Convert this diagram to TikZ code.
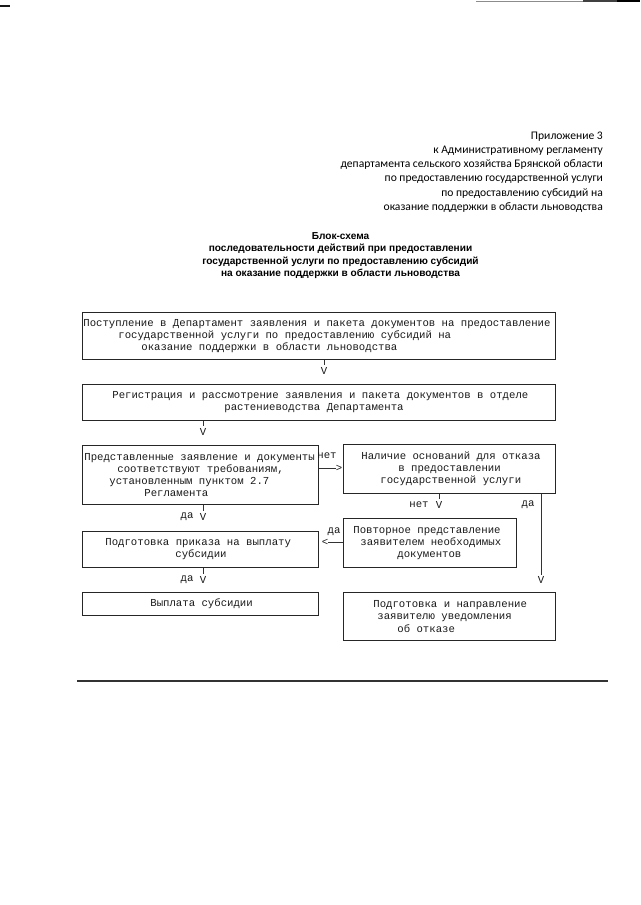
\documentclass[tikz,border=0pt]{standalone}
\usepackage{fontspec}
\setmainfont{Liberation Serif}
\newfontfamily\hdrfont{Carlito}
\newfontfamily\ttlfont{Liberation Sans}
\newfontfamily\boxfont{Liberation Mono}
\newcommand\ind[1]{\hspace*{#1pt}}
\newlength\cwten
\AtBeginDocument{%
  \settowidth\cwten{\boxfont\fontsize{10pt}{12pt}\selectfont шшшшшшшшшш}%
  \ifdim\cwten>1pt
    \pgfmathsetmacro\bfs{100*6.4/\cwten}%
  \else
    \def\bfs{10.67}%
  \fi}
\newcommand\monoset[1]{\boxfont\fontsize{\bfs pt}{#1}\selectfont}
% fixed monospaced word spaces (align=left would make them narrow)
\newcommand\fs{\spaceskip=6.4pt\relax\xspaceskip=6.4pt\relax}
\begin{document}
\begin{tikzpicture}[x=1pt,y=-1pt,
  box/.style n args={2}{draw=black!85, line width=0.8pt, anchor=north west,
    inner xsep=0pt, inner ysep=0pt, align=left, text=black!90,
    minimum width=#1, text width=#1, minimum height=#2,
    font=\monoset{12.2pt}},
  sym/.style={inner sep=0pt, text=black!90, font=\monoset{12pt}},
  con/.style={draw=black!80, line width=0.6pt}]
\useasboundingbox (0,0) rectangle (640,905);

% scan edge marks
\draw[black!90, line width=1.5pt] (0,6) -- (10,6);
\draw[black!45, line width=1pt] (476,1) -- (583,1);
\draw[black!75, line width=1.2pt] (583,1) -- (617,1);
\draw[black, line width=1.4pt] (617,1) -- (640,1);

% header
\node[anchor=east, align=right, inner sep=0pt, text=black,
  font=\hdrfont\fontsize{11.6}{14.3}\selectfont] (hdr) at (603,172)
  {Приложение 3\\
   к Административному регламенту\\
   департамента сельского хозяйства Брянской области\\
   по предоставлению государственной услуги\\
   по предоставлению субсидий на\\
   оказание поддержки в области льноводства};

% title
\node[align=center, inner sep=0pt, text=black,
  font=\ttlfont\bfseries\fontsize{10.1}{12.5}\selectfont] (ttl) at (340.5,255.5)
  {Блок-схема\\
   последовательности действий при предоставлении\\
   государственной услуги по предоставлению субсидий\\
   на оказание поддержки в области льноводства};

% boxes
\node[box={473pt}{47pt}] (b1) at (82,312)
  {\fs\ind{1}Поступление в Департамент заявления и пакета документов на предоставление\\
   \ind{36}государственной услуги по предоставлению субсидий на\\
   \ind{59}оказание поддержки в области льноводства};
\node[box={473pt}{36pt}] (b2) at (82,384)
  {\fs\ind{30}Регистрация и рассмотрение заявления и пакета документов в отделе\\
   \ind{142}растениеводства Департамента};
\node[box={236pt}{59pt}] (b3) at (82,445)
  {\fs\ind{2}Представленные заявление и документы\\
   \ind{35}соответствуют требованиям,\\
   \ind{27}установленным пунктом 2.7\\
   \ind{62}Регламента};
\node[box={212pt}{49pt}] (b4) at (343,444)
  {\fs\ind{18}Наличие оснований для отказа\\
   \ind{55}в предоставлении\\
   \ind{37}государственной услуги};
\node[box={236pt}{36pt}] (b5) at (82,531)
  {\fs\ind{23}Подготовка приказа на выплату\\
   \ind{93}субсидии};
\node[box={173pt}{49pt}] (b6) at (343,518)
  {\fs\ind{10}Повторное представление\\
   \ind{17}заявителем необходимых\\
   \ind{54}документов};
\node[box={236pt}{23pt}] (b7) at (82,592)
  {\fs\ind{68}Выплата субсидии};
\node[box={212pt}{48pt}] (b8) at (343,592)
  {\fs\ind{30}Подготовка и направление\\
   \ind{34}заявителю уведомления\\
   \ind{54}об отказе};

% arrow heads (V, >, <) and labels
\node[sym] (v1) at (324,371) {V};
\node[sym] (v2) at (203,432) {V};
\node[sym] (v3) at (203,517) {V};
\node[sym] (v4) at (203,580) {V};
\node[sym] (v5) at (439,505) {V};
\node[sym] (v6) at (541,580) {V};
\node[sym] (gt) at (339,468) {>};
\node[sym] (lt) at (325,542) {<};

\node[sym] (l3) at (187,517) {да};
\node[sym] (l4) at (187,580) {да};
\node[sym] (l5) at (419,505) {нет};
\node[sym] (l6) at (528,505) {да};
\node[sym] (lg) at (327,456) {нет};
\node[sym] (ll) at (334,532) {да};

% connectors
\draw[con, shorten >=2pt] (b1.south -| v1) -- (v1.north);
\draw[con, shorten >=2pt] (b2.south -| v2) -- (v2.north);
\draw[con, shorten >=2pt] (b3.south -| v3) -- (v3.north);
\draw[con, shorten >=2pt] (b5.south -| v4) -- (v4.north);
\draw[con, shorten >=2pt] (b4.south -| v5) -- (v5.north);
\draw[con, shorten >=1pt] (b4.south -| v6) -- (v6.north);
\draw[con] (b3.east |- gt) -- (gt.west);
\draw[con] (b6.west |- lt) -- (lt.east);

% bottom rule
\draw[black!80, line width=1.3pt] (77,681) -- (608,681);
\end{tikzpicture}
\end{document}
